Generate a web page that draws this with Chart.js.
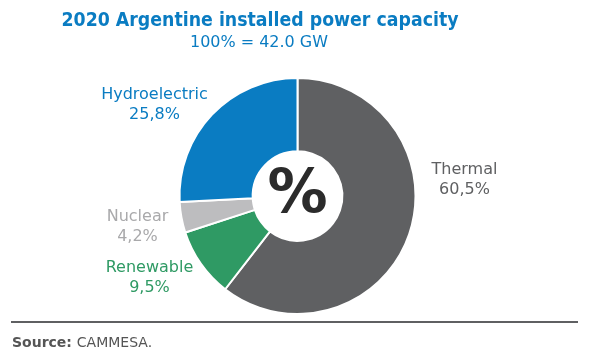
<!DOCTYPE html>
<html><head><meta charset="utf-8">
<script src="https://cdn.jsdelivr.net/npm/chart.js@4/dist/chart.umd.min.js"></script>
<style>html,body{margin:0;padding:0;background:#fff}#wrap{width:595px;height:357px;position:relative}</style>
</head><body><div id="wrap"><canvas id="c" width="595" height="357"></canvas></div>
<script>
const categories = ["Thermal", "Renewable", "Nuclear", "Hydroelectric"];
const values = [60.5, 9.5, 4.2, 25.8];
const valueLabels = ["60,5%", "9,5%", "4,2%", "25,8%"];
const colors = ["#5f6062", "#2f9a64", "#bdbdbf", "#0a7cc2"];
const titleText = "2020 Argentine installed power capacity";
const subtitleText = "100% = 42.0 GW";

// label anchor offsets relative to the doughnut centre (px)
const labelOffsets = [[167, -16], [-148, 82], [-160, 31], [-143, -91]];

const textPlugin = {
  id: 'texts',
  afterDraw(chart) {
    const ctx = chart.ctx;
    const meta = chart.getDatasetMeta(0);
    const arc = meta.data[0];
    const cx = arc.x, cy = arc.y;
    ctx.save();
    ctx.textAlign = 'center';
    ctx.textBaseline = 'middle';
    // title
    ctx.fillStyle = '#0a7cc2';
    ctx.font = 'bold 20px "DejaVu Sans"';
    ctx.fillText(titleText, 260, 21, 397);
    ctx.font = '16px "DejaVu Sans"';
    ctx.fillText(subtitleText, 259, 43, 138);
    // centre %
    ctx.fillStyle = '#2b2b2b';
    ctx.font = 'bold 60px "DejaVu Sans"';
    ctx.fillText('%', cx, cy);
    // labels
    ctx.font = '16px "DejaVu Sans"';
    for (let i = 0; i < categories.length; i++) {
      const [dx, dy] = labelOffsets[i];
      ctx.fillStyle = i === 0 ? '#5f6062' : (i === 2 ? '#a9a9ab' : colors[i]);
      ctx.fillText(categories[i], cx + dx, cy + dy - 10);
      ctx.fillText(valueLabels[i], cx + dx, cy + dy + 10);
    }
    // rule
    ctx.strokeStyle = '#5f6062';
    ctx.lineWidth = 2;
    ctx.beginPath();
    ctx.moveTo(11, 322);
    ctx.lineTo(578, 322);
    ctx.stroke();
    // source
    ctx.textAlign = 'left';
    ctx.fillStyle = '#555555';
    ctx.font = 'bold 14px "DejaVu Sans"';
    ctx.fillText('Source:', 12, 343);
    const w = ctx.measureText('Source: ').width;
    ctx.font = '14px "DejaVu Sans"';
    ctx.fillText('CAMMESA.', 12 + w, 343);
    ctx.restore();
  }
};

new Chart(document.getElementById('c'), {
  type: 'doughnut',
  data: {
    labels: categories,
    datasets: [{
      data: values,
      backgroundColor: colors,
      borderColor: '#ffffff',
      borderWidth: 2,
      hoverOffset: 0
    }]
  },
  options: {
    responsive: false,
    animation: false,
    cutout: '38%',
    rotation: 0,
    layout: { padding: { top: 77, bottom: 42, left: 0, right: 0 } },
    plugins: { legend: { display: false }, tooltip: { enabled: false }, title: { display: false } }
  },
  plugins: [textPlugin]
});
</script></body></html>
